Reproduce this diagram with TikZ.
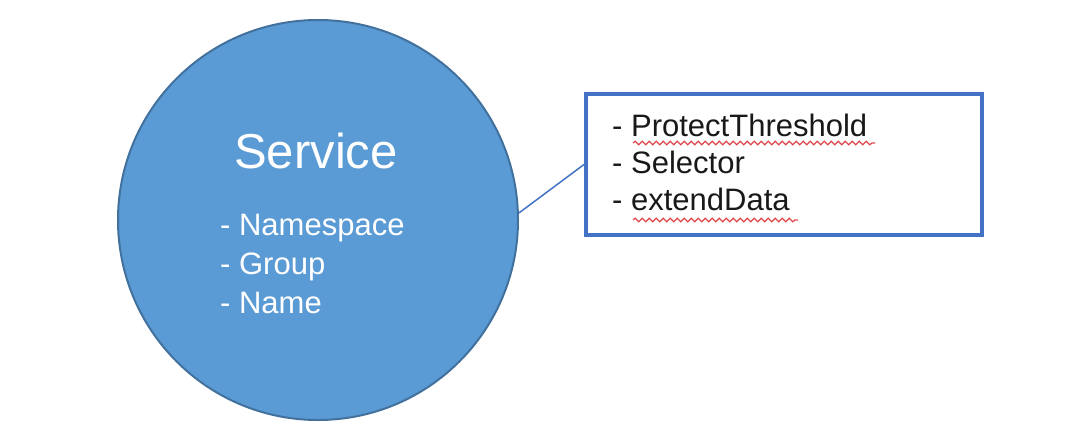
\documentclass[tikz,border=0pt]{standalone}
\usepackage{fontspec}
\setmainfont{Liberation Sans}
\usetikzlibrary{decorations.pathmorphing}
\definecolor{svcfill}{HTML}{5B9BD5}
\definecolor{svcline}{HTML}{41719C}
\definecolor{boxline}{HTML}{4472C4}
\definecolor{spellred}{HTML}{E0474C}
\tikzset{
  svcball/.style={circle, fill=svcfill, draw=svcline, line width=2pt, minimum size=400pt, inner sep=0pt},
  attrbox/.style={rectangle, draw=boxline, line width=4pt, minimum width=396pt, minimum height=141pt, fill=white},
  item/.style={anchor=base west, inner sep=0pt, font=\fontsize{31}{36}\selectfont},
  squiggle/.style={draw=spellred, line width=1.2pt, decorate, decoration={snake, amplitude=1.8pt, segment length=7pt}}
}
\begin{document}
\begin{tikzpicture}[x=1pt,y=-1pt]
			\useasboundingbox[fill=white] (0,0) rectangle (1076,434);
			%Service%
			\node[svcball] (svc) at (318,220) {};
			\node[anchor=base, inner sep=0pt, text=white, font=\fontsize{49}{56}\selectfont] (title) at (316,168) {Service};
			\node[item, text=white] (ns) at (220,235) {- Namespace};
			\node[item, text=white] (grp) at (220,274) {- Group};
			\node[item, text=white] (nm) at (220,313) {- Name};
			%Atributos%
			\node[attrbox] (attr) at (784,164.5) {};
			\node[item, text=black!90] (thr) at (612,136) {- ProtectThreshold};
			\node[item, text=black!90] (sel) at (612,173) {- Selector};
			\node[item, text=black!90] (ext) at (612,210) {- extendData};
			\draw [squiggle] (633,143)--(875,143);
			\draw [squiggle] (633,220)--(798,220);
			\draw [boxline, line width=1.5pt] (svc.2)--(attr.west);
			\end{tikzpicture}
\end{document}
